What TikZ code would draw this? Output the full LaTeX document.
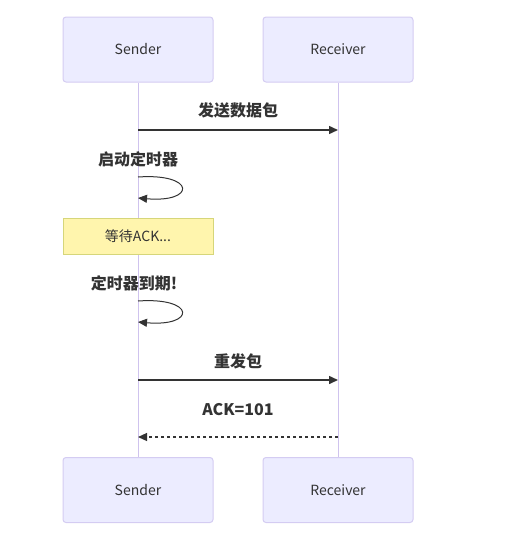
\documentclass[tikz,border=0pt]{standalone}
\usepackage{fontspec}
\setmainfont{Noto Sans CJK SC}
\usetikzlibrary{arrows.meta}
\definecolor{actfill}{HTML}{ECECFF}
\definecolor{actline}{HTML}{D4CCF2}
\definecolor{lifeline}{HTML}{CFC3EE}
\definecolor{txt}{HTML}{333333}
\definecolor{notefill}{HTML}{FFF5AD}
\definecolor{noteline}{HTML}{D6D67A}
\tikzset{
  actor/.style={draw=actline, fill=actfill, rounded corners=3pt, line width=1pt,
    minimum width=150pt, minimum height=65pt, inner sep=0pt, text=txt,
    font=\fontsize{14}{16}\selectfont},
  msg/.style={text=txt, font=\fontsize{16}{18}\selectfont\bfseries, inner sep=0pt},
  arr/.style={draw=txt, line width=1.5pt, -{Triangle[length=9pt,width=8pt]}},
  self/.style={draw=txt, line width=1pt, -{Triangle[length=9pt,width=8pt]}},
  notebox/.style={draw=noteline, fill=notefill, line width=1pt, minimum width=150pt,
    minimum height=36pt, inner sep=0pt, text=txt, font=\fontsize{14}{16}\selectfont},
  life/.style={draw=lifeline, line width=1pt}
}
\begin{document}
\begin{tikzpicture}[x=1pt,y=-1pt]
\useasboundingbox (0,0) rectangle (513,544);
\node[actor] (st) at (138,49.5) {Sender};
\node[actor] (rt) at (338,49.5) {Receiver};
\node[actor] (sb) at (138,490) {Sender};
\node[actor] (rb) at (338,490) {Receiver};
\draw[life] (st.south) -- (sb.north);
\draw[life] (rt.south) -- (rb.north);
% message 1
\coordinate (m1s) at (138,130);
\coordinate (m1e) at (338,130);
\node[msg] (l1) at (238,110) {发送数据包};
\draw[arr] (m1s) -- (m1e);
% self loop 1
\node[msg] (l2) at (138,159) {启动定时器};
\coordinate (s1a) at (138,177);
\coordinate (s1b) at (138,198);
\draw[self] (s1a) .. controls (196,173) and (196,203) .. (s1b);
% note
\node[notebox] (note) at (138,236) {等待ACK...};
% self loop 2
\node[msg] (l3) at (134,283) {定时器到期!};
\coordinate (s2a) at (138,301);
\coordinate (s2b) at (138,322);
\draw[self] (s2a) .. controls (196,297) and (196,327) .. (s2b);
% message resend
\node[msg] (l4) at (238,361) {重发包};
\coordinate (m2s) at (138,380);
\coordinate (m2e) at (338,380);
\draw[arr] (m2s) -- (m2e);
% ack
\node[msg] (l5) at (238,410) {ACK=101};
\coordinate (m3s) at (338,437);
\coordinate (m3e) at (138,437);
\draw[arr, line width=1.2pt, dash pattern=on 3pt off 3pt] (m3s) -- (m3e);
\end{tikzpicture}
\end{document}
